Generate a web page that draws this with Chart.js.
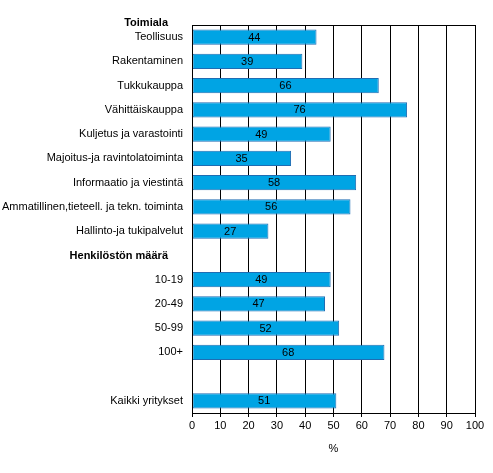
<!DOCTYPE html>
<html>
<head>
<meta charset="utf-8">
<script src="https://cdn.jsdelivr.net/npm/chart.js@4/dist/chart.umd.min.js"></script>
<style>
html,body{margin:0;padding:0;background:#fff;}
#wrap{width:493px;height:473px;position:relative;}
</style>
</head>
<body>
<div id="wrap"><canvas id="c" width="493" height="473"></canvas></div>
<script>
const categories = [
  'Teollisuus', 'Rakentaminen', 'Tukkukauppa', 'Vähittäiskauppa',
  'Kuljetus ja varastointi', 'Majoitus-ja ravintolatoiminta',
  'Informaatio ja viestintä', 'Ammatillinen,tieteell. ja tekn. toiminta',
  'Hallinto-ja tukipalvelut', '', '10-19', '20-49', '50-99', '100+', '', 'Kaikki yritykset'
];
const values = [44, 39, 66, 76, 49, 35, 58, 56, 27, null, 49, 47, 52, 68, null, 51];
const groupHeaders = ['Toimiala', 'Henkilöstön määrä'];
const headerRows = [-1, 9];
const xTicks = [0, 10, 20, 30, 40, 50, 60, 70, 80, 90, 100];
const xTitle = '%';

const FONT = "'Liberation Sans', Arial, sans-serif";

const overlay = {
  id: 'overlay',
  afterDatasetsDraw(chart) {
    const ctx = chart.ctx;
    const meta = chart.getDatasetMeta(0);
    const xs = chart.scales.x, ys = chart.scales.y;
    ctx.save();
    ctx.font = '11px ' + FONT;
    ctx.fillStyle = '#000';
    ctx.textAlign = 'center';
    ctx.textBaseline = 'middle';
    meta.data.forEach((bar, i) => {
      const v = values[i];
      if (v === null) return;
      const x0 = xs.getPixelForValue(0);
      ctx.fillText(String(v), (x0 + bar.x) / 2, bar.y + 0.5);
    });
    // headers
    ctx.font = 'bold 11px ' + FONT;
    ctx.textAlign = 'right';
    groupHeaders.forEach((h, k) => {
      const r = headerRows[k];
      const step = ys.getPixelForValue(1) - ys.getPixelForValue(0);
      const y = ys.getPixelForValue(0) + r * step + 1;
      ctx.fillText(h, ys.right - 24, r < 0 ? chart.chartArea.top - 2 : y);
    });
    // frame
    const a = chart.chartArea;
    ctx.strokeStyle = '#000';
    ctx.lineWidth = 1;
    ctx.strokeRect(Math.round(a.left) + 0.5, Math.round(a.top) + 0.5,
                   Math.round(a.right - a.left), Math.round(a.bottom - a.top));
    ctx.restore();
  }
};

new Chart(document.getElementById('c'), {
  type: 'bar',
  data: {
    labels: categories,
    datasets: [{
      data: values,
      backgroundColor: '#00A4E4',
      borderColor: '#1F6DB3',
      borderWidth: 1,
      borderSkipped: false,
      barPercentage: 0.63,
      categoryPercentage: 1.0
    }]
  },
  options: {
    indexAxis: 'y',
    responsive: false,
    animation: false,
    devicePixelRatio: 1,
    layout: { padding: { left: 0, right: 18, top: 25, bottom: 17 } },
    plugins: { legend: { display: false }, tooltip: { enabled: false } },
    scales: {
      x: {
        min: 0, max: 100,
        afterBuildTicks(scale) { scale.ticks = xTicks.map(v => ({ value: v })); },
        afterFit(scale) { scale.height = 43; },
        grid: { color: '#000', lineWidth: 1, tickLength: 4, drawTicks: true },
        border: { display: true, color: '#000' },
        ticks: { color: '#000', font: { family: FONT, size: 11 }, padding: 2, maxRotation: 0 },
        title: { display: true, text: xTitle, color: '#000', font: { family: FONT, size: 11 }, padding: { top: 11, bottom: 0 } }
      },
      y: {
        afterFit(scale) { scale.width = 192; },
        grid: { display: false, drawTicks: false },
        border: { display: true, color: '#000' },
        ticks: { color: '#000', font: { family: FONT, size: 11 }, padding: 9, autoSkip: false }
      }
    }
  },
  plugins: [overlay]
});
</script>
</body>
</html>
